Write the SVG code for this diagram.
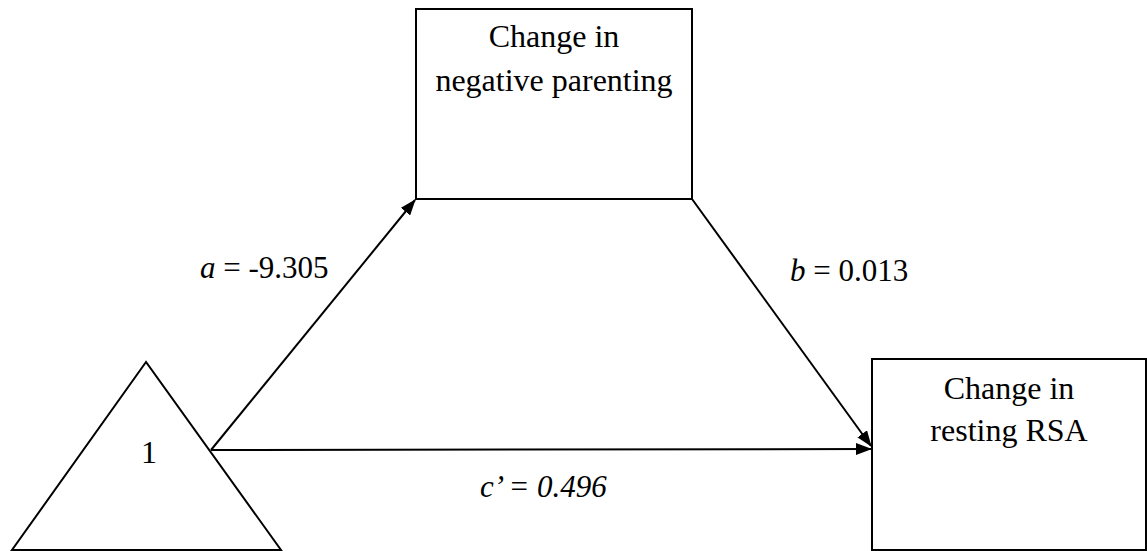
<svg xmlns="http://www.w3.org/2000/svg" width="1147" height="551" viewBox="0 0 1147 551">
<style>
.box{fill:#fff;stroke:#000;stroke-width:2}
.lbl{font-family:"Liberation Serif",serif;font-size:32px;fill:#000;text-anchor:middle}
.coef{font-family:"Liberation Serif",serif;font-size:31px;fill:#000}
.conn{stroke:#000;stroke-width:2;fill:none}
</style>
<defs>
<marker id="ah2" markerWidth="16" markerHeight="12" refX="15" refY="6" orient="auto" markerUnits="userSpaceOnUse" viewBox="0 0 16 12">
<path d="M0,0 L16,6 L0,12 Z" fill="#000"/>
</marker>
</defs>
<rect width="1147" height="551" fill="#fff"/>
<g id="connectors">
<line class="conn" x1="211" y1="450" x2="415" y2="200" marker-end="url(#ah2)"/>
<line class="conn" x1="211" y1="450" x2="871" y2="449" marker-end="url(#ah2)"/>
<line class="conn" x1="692" y1="199" x2="871" y2="446" marker-end="url(#ah2)"/>
</g>
<g id="node-x">
<polygon class="box" points="146,362 12,550 281,550"/>
<text class="lbl" x="149" y="463">1</text>
</g>
<g id="node-m">
<rect class="box" x="416" y="9" width="276" height="190"/>
<text class="lbl" x="554" y="47">Change in</text>
<text class="lbl" x="554" y="91">negative parenting</text>
</g>
<g id="node-y">
<rect class="box" x="872" y="359" width="274" height="191"/>
<text class="lbl" x="1009" y="399">Change in</text>
<text class="lbl" x="1009" y="441">resting RSA</text>
</g>
<g id="labels">
<text class="coef" x="200" y="278"><tspan font-style="italic">a</tspan> = -9.305</text>
<text class="coef" x="790" y="281"><tspan font-style="italic">b</tspan> = 0.013</text>
<text class="coef" x="480" y="497" font-style="italic">c’ = 0.496</text>
</g>
</svg>
